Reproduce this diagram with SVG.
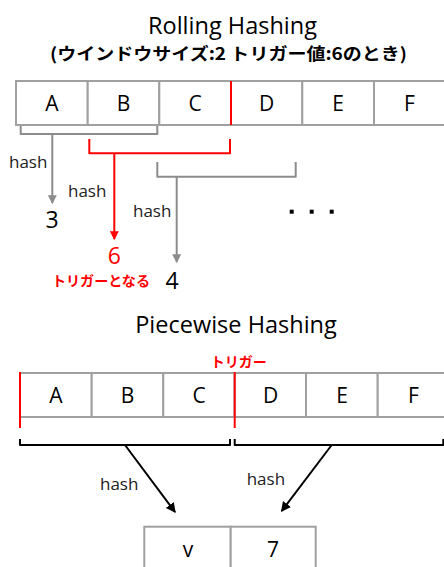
<svg xmlns="http://www.w3.org/2000/svg" width="444" height="567" viewBox="0 0 444 567">
<defs>
<style>
.t{font-family:"Open Sans","Noto Sans","Liberation Sans",sans-serif;fill:#000}
.title{font-size:23px}
.cell{fill:#fff;stroke:#a0a0a0;stroke-width:2}
.ct{font-size:21px;text-anchor:middle}
.hash{font-size:17px;fill:#222}
.num{font-size:23px;text-anchor:middle}
.jp{font-family:"Noto Sans CJK JP","Open Sans",sans-serif;font-weight:bold}
.red{fill:#ff0000}
.gl{fill:none;stroke:#8c8c8c;stroke-width:2;stroke-linejoin:round}
.rl{fill:none;stroke:#ff0000;stroke-width:2;stroke-linejoin:round}
.bl{fill:none;stroke:#000;stroke-width:2;stroke-linejoin:round}
</style>
<marker id="ag" viewBox="0 0 8 8" refX="7" refY="4" markerWidth="4.5" markerHeight="4.5" orient="auto" markerUnits="strokeWidth"><path d="M0,0 L8,4 L0,8 z" fill="#8c8c8c"/></marker>
<marker id="ar" viewBox="0 0 8 8" refX="7" refY="4" markerWidth="4.5" markerHeight="4.5" orient="auto" markerUnits="strokeWidth"><path d="M0,0 L8,4 L0,8 z" fill="#ff0000"/></marker>
<marker id="ab" viewBox="0 0 8 8" refX="7" refY="4" markerWidth="5" markerHeight="5" orient="auto" markerUnits="strokeWidth"><path d="M0,0 L8,4 L0,8 z" fill="#000"/></marker>
</defs>
<rect width="444" height="567" fill="#fff"/>

<g id="title-rolling">
<text class="t title" x="232.5" y="34" text-anchor="middle" textLength="169" lengthAdjust="spacingAndGlyphs">Rolling Hashing</text>
<text class="t jp" x="50" y="60" font-size="17" textLength="357" lengthAdjust="spacingAndGlyphs">(ウインドウサイズ:2 トリガー値:6のとき)</text>
</g>

<g id="rolling-table">
<g id="r-A"><rect class="cell" x="16" y="81" width="71.7" height="44"/><text class="t ct" x="52" y="111">A</text></g>
<g id="r-B"><rect class="cell" x="87.7" y="81" width="71.6" height="44"/><text class="t ct" x="123.5" y="111">B</text></g>
<g id="r-C"><rect class="cell" x="159.3" y="81" width="71.7" height="44"/><text class="t ct" x="195" y="111">C</text></g>
<g id="r-D"><rect class="cell" x="231" y="81" width="71.3" height="44"/><text class="t ct" x="266.5" y="111">D</text></g>
<g id="r-E"><rect class="cell" x="302.3" y="81" width="71.7" height="44"/><text class="t ct" x="338" y="111">E</text></g>
<g id="r-F"><rect class="cell" x="374" y="81" width="72" height="44"/><text class="t ct" x="409.5" y="111">F</text></g>
<line x1="231" y1="81" x2="231" y2="125" stroke="#ff0000" stroke-width="2"/>
</g>

<g id="connectors">
<path class="gl" d="M20.7,126 V134 H157.3 V126"/>
<line class="gl" x1="52.3" y1="134" x2="52.3" y2="203" marker-end="url(#ag)"/>
<path class="rl" d="M89.3,139 V153.3 H230 V139"/>
<line class="rl" x1="114.3" y1="153.3" x2="114.3" y2="239" marker-end="url(#ar)"/>
<path class="gl" d="M157.3,162 V176.7 H295.7 V162"/>
<line class="gl" x1="176.7" y1="176.7" x2="176.7" y2="262" marker-end="url(#ag)"/>
<path class="bl" d="M20,439 V445 H230 V439"/>
<path class="bl" d="M234.7,439 V445 H443.3 V439"/>
<line class="bl" x1="125" y1="445" x2="175" y2="512" marker-end="url(#ab)"/>
<line class="bl" x1="331.7" y1="445" x2="281.7" y2="511" marker-end="url(#ab)"/>
</g>

<g id="rolling-labels">
<text class="t hash" x="9" y="168">hash</text>
<text class="t hash" x="68" y="196.7">hash</text>
<text class="t hash" x="133" y="217">hash</text>
</g>

<g id="v3"><text class="t num" x="52" y="228">3</text></g>
<g id="v6"><text class="t num red" x="114.3" y="264">6</text></g>
<g id="v4"><text class="t num" x="172" y="288.5">4</text></g>
<g id="trigger-note"><text class="t jp red" x="52" y="285.5" font-size="14" textLength="98" lengthAdjust="spacingAndGlyphs">トリガーとなる</text></g>
<g id="ellipsis">
<rect x="289.7" y="209.7" width="4" height="4" fill="#000"/>
<rect x="309.7" y="209.7" width="4" height="4" fill="#000"/>
<rect x="329.7" y="209.7" width="4" height="4" fill="#000"/>
</g>

<g id="title-piecewise">
<text class="t title" x="236" y="333" text-anchor="middle" textLength="201.7" lengthAdjust="spacingAndGlyphs">Piecewise Hashing</text>
</g>
<g id="trigger-label"><text class="t jp red" x="210.7" y="366.5" font-size="14" textLength="56" lengthAdjust="spacingAndGlyphs">トリガー</text></g>

<g id="piecewise-table">
<g id="p-A"><rect class="cell" x="20" y="373" width="71.7" height="44"/><text class="t ct" x="56" y="402.5">A</text></g>
<g id="p-B"><rect class="cell" x="91.7" y="373" width="71.6" height="44"/><text class="t ct" x="127.5" y="402.5">B</text></g>
<g id="p-C"><rect class="cell" x="163.3" y="373" width="71.4" height="44"/><text class="t ct" x="199" y="402.5">C</text></g>
<g id="p-D"><rect class="cell" x="234.7" y="373" width="71.3" height="44"/><text class="t ct" x="270.5" y="402.5">D</text></g>
<g id="p-E"><rect class="cell" x="306" y="373" width="71.7" height="44"/><text class="t ct" x="342" y="402.5">E</text></g>
<g id="p-F"><rect class="cell" x="377.7" y="373" width="72" height="44"/><text class="t ct" x="413.5" y="402.5">F</text></g>
<line x1="20" y1="372" x2="20" y2="428" stroke="#ff0000" stroke-width="2"/>
<line x1="234.7" y1="372" x2="234.7" y2="428" stroke="#ff0000" stroke-width="2"/>
</g>

<g id="piecewise-labels">
<text class="t hash" x="100" y="490">hash</text>
<text class="t hash" x="246.7" y="485">hash</text>
</g>

<g id="result-table">
<g id="res-v"><rect class="cell" x="144.3" y="526.7" width="86.4" height="50"/><text class="t ct" x="188" y="556.7">v</text></g>
<g id="res-7"><rect class="cell" x="230.7" y="526.7" width="85" height="50"/><text class="t ct" x="273" y="556.7">7</text></g>
</g>
</svg>
